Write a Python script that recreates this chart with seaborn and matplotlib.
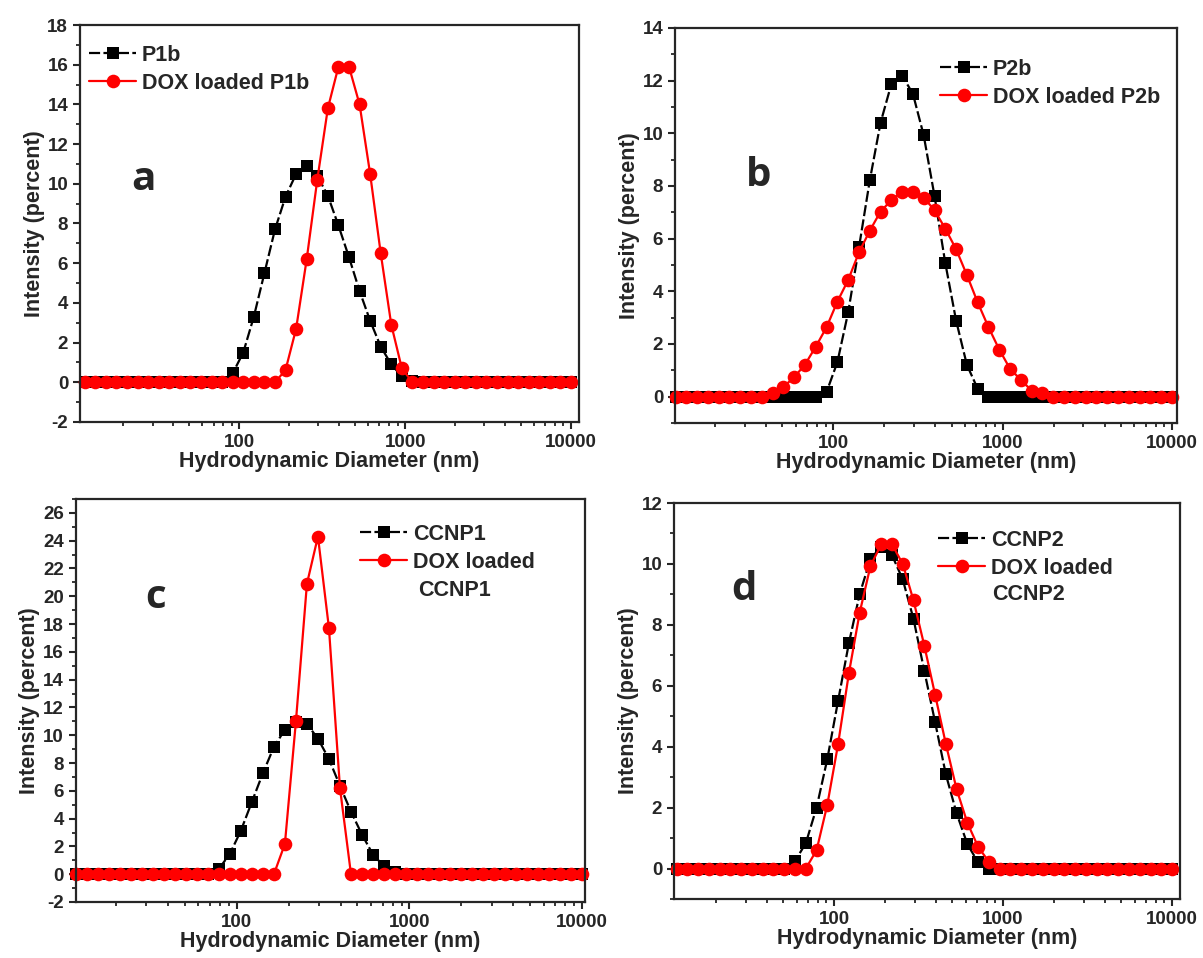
import matplotlib
matplotlib.use("Agg")
import matplotlib.pyplot as plt
import matplotlib.ticker as mticker
import seaborn as sns

# particle size bins (nm)
sizes = [11.7, 13.54, 15.69, 18.17, 21.04, 24.36, 28.21, 32.67, 37.84, 43.82,
         50.75, 58.77, 68.06, 78.82, 91.28, 105.7, 122.4, 141.8, 164.2, 190.1,
         220.2, 255.0, 295.3, 342.0, 396.1, 458.7, 531.2, 615.1, 712.4, 825.0,
         955.4, 1106, 1281, 1484, 1718, 1990, 2305, 2669, 3091, 3580,
         4145, 4801, 5560, 6439, 7456, 8635, 10000]

# intensity (percent) for each bin
p1b = [0] * 14 + [0.45, 1.5, 3.3, 5.5, 7.7, 9.35, 10.5, 10.9, 10.4, 9.4,
                  7.9, 6.3, 4.6, 3.1, 1.8, 0.9, 0.3, 0.08] + [0] * 15
dox_p1b = [0] * 19 + [0.62, 2.7, 6.2, 10.2, 13.8, 15.9, 15.9, 14.0, 10.5,
                      6.5, 2.9, 0.7] + [0] * 16

p2b = [0] * 14 + [0.18, 1.31, 3.2, 5.67, 8.21, 10.4, 11.87, 12.19, 11.5, 9.92,
                  7.62, 5.07, 2.89, 1.21, 0.3] + [0] * 18
dox_p2b = [0] * 9 + [0.14, 0.37, 0.74, 1.22, 1.9, 2.64, 3.61, 4.43, 5.48, 6.3,
                     7.03, 7.46, 7.79, 7.79, 7.56, 7.08, 6.38, 5.6, 4.62, 3.58,
                     2.64, 1.79, 1.06, 0.64, 0.23, 0.14] + [0] * 12

ccnp1 = [0] * 13 + [0.38, 1.46, 3.13, 5.2, 7.27, 9.16, 10.4, 10.96, 10.8, 9.76,
                    8.28, 6.36, 4.5, 2.85, 1.41, 0.57, 0.14] + [0] * 17
dox_ccnp1 = [0] * 19 + [2.18, 11.0, 20.9, 24.3, 17.7, 6.2] + [0] * 22

ccnp2 = [0] * 11 + [0.25, 0.83, 2.0, 3.6, 5.51, 7.4, 9.01, 10.16, 10.57, 10.29,
                    9.49, 8.19, 6.49, 4.81, 3.09, 1.81, 0.8, 0.2] + [0] * 18
dox_ccnp2 = [0] * 13 + [0.6, 2.1, 4.09, 6.41, 8.4, 9.93, 10.64, 10.64, 10.0, 8.8,
                        7.32, 5.71, 4.09, 2.6, 1.5, 0.71, 0.22] + [0] * 17

labels_a = ["P1b", "DOX loaded P1b"]
labels_b = ["P2b", "DOX loaded P2b"]
labels_c = ["CCNP1", "DOX loaded"]
labels_d = ["CCNP2", "DOX loaded"]

W, H = 1203, 958

sns.set_style("ticks")
plt.rcParams["font.family"] = ["Liberation Sans", "DejaVu Sans"]
plt.rcParams["font.weight"] = "bold"
plt.rcParams["axes.labelweight"] = "bold"
plt.rcParams["axes.linewidth"] = 1.6
plt.rcParams["axes.unicode_minus"] = False

fig = plt.figure(figsize=(W / 100, H / 100), dpi=100)
fig.patch.set_facecolor("white")


def px_axes(left, right, top, bottom):
    return fig.add_axes([left / W, 1 - bottom / H, (right - left) / W, (bottom - top) / H])


def draw_panel(ax, black, red, labels, xlog, ylim, yticks, letter, letter_xy, leg_xy):
    ax.set_xscale("log")
    sns.lineplot(x=sizes, y=black, ax=ax, color="black", marker="s", markersize=8.8,
                 markeredgecolor="black", markeredgewidth=0, linewidth=1.6,
                 linestyle=(0, (5, 1.5)), label=labels[0], clip_on=False)
    sns.lineplot(x=sizes, y=red, ax=ax, color="#ff0000", marker="o", markersize=9.8,
                 markeredgecolor="#ff0000", markeredgewidth=0, linewidth=1.6,
                 label=labels[1], clip_on=False)
    ax.set_xlim(10 ** xlog[0], 10 ** xlog[1])
    ax.set_ylim(*ylim)
    ax.set_xticks([100, 1000, 10000])
    ax.xaxis.set_major_formatter(mticker.FixedFormatter(["100", "1000", "10000"]))
    ax.xaxis.set_minor_locator(mticker.LogLocator(base=10, subs=range(2, 10)))
    ax.xaxis.set_minor_formatter(mticker.NullFormatter())
    ax.set_yticks(yticks)
    ax.yaxis.set_minor_locator(mticker.MultipleLocator(1))
    ax.tick_params(which="major", direction="out", length=5, width=1.5, labelsize=13.5)
    ax.tick_params(which="minor", direction="out", length=3, width=1.3)
    for lab in ax.get_xticklabels() + ax.get_yticklabels():
        lab.set_fontweight("bold")
    ax.set_xlabel("Hydrodynamic Diameter (nm)", fontsize=15.5, fontweight="bold", labelpad=0)
    ax.set_ylabel("Intensity (percent)", fontsize=15.5, fontweight="bold", labelpad=2)
    for sp in ax.spines.values():
        sp.set_visible(True)
        sp.set_linewidth(1.6)
    fig.text(letter_xy[0] / W, 1 - letter_xy[1] / H, letter, fontsize=29,
             fontweight="bold", family="Open Sans", ha="center", va="center")
    ax.legend(loc="upper left", bbox_to_anchor=(leg_xy[0] / W, 1 - leg_xy[1] / H),
              bbox_transform=fig.transFigure, frameon=False, borderpad=0,
              borderaxespad=0, handlelength=2.2, handletextpad=0.25,
              labelspacing=0.32, numpoints=1, prop={"size": 15.5, "weight": "bold"})


ax_a = px_axes(80, 579, 25, 422)
draw_panel(ax_a, p1b, dox_p1b, labels_a, (1.04, 4.048), (-2, 18), range(-2, 19, 2),
           "a", (143, 179), (89, 45))

ax_b = px_axes(675, 1177, 28, 423)
draw_panel(ax_b, p2b, dox_p2b, labels_b, (1.065, 4.03), (-1, 14), range(0, 15, 2),
           "b", (759, 176), (940, 59))

ax_c = px_axes(75.5, 585, 499, 902)
draw_panel(ax_c, ccnp1, dox_ccnp1, labels_c, (1.067, 4.016), (-2, 27), range(-2, 27, 2),
           "c", (156, 598), (360, 524))
fig.text(418 / W, 1 - 590 / H, "CCNP1", fontsize=15.5, fontweight="bold", va="center")

ax_d = px_axes(674, 1180, 503, 899)
draw_panel(ax_d, ccnp2, dox_ccnp2, labels_d, (1.053, 4.047), (-1, 12), range(0, 13, 2),
           "d", (744, 590), (938, 530))
fig.text(992 / W, 1 - 595 / H, "CCNP2", fontsize=15.5, fontweight="bold", va="center")

fig.savefig("out.png", dpi=100, facecolor="white")
